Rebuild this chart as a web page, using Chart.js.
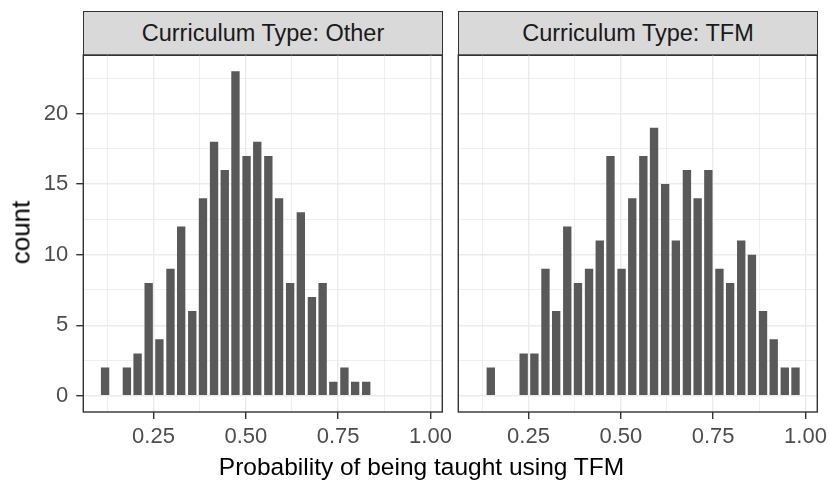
<!DOCTYPE html>
<html>
<head>
<meta charset="utf-8">
<script src="https://cdn.jsdelivr.net/npm/chart.js@4.4.1/dist/chart.umd.min.js"></script>
<style>
  body{margin:0;background:#fff;width:829px;height:486px;position:relative;overflow:hidden;
       font-family:"Liberation Sans",Arial,sans-serif}
  canvas{position:absolute}
  .strip{position:absolute;top:11px;height:45px;background:#d9d9d9;border:1.4px solid #333;
         box-sizing:border-box;color:#1a1a1a;font-size:23.5px;display:flex;align-items:center;justify-content:center}
  .xtitle{position:absolute;left:0;width:843px;top:453px;text-align:center;font-size:24.5px;color:#000}
  .ytitle{position:absolute;left:-29px;top:217px;width:100px;text-align:center;font-size:26px;color:#000;
          transform:rotate(-90deg)}
</style>
</head>
<body>
<div class="strip" style="left:83px;width:360px">Curriculum Type: Other</div>
<div class="strip" style="left:458px;width:360px">Curriculum Type: TFM</div>
<canvas id="cOther" width="452" height="436" style="left:0;top:50px"></canvas>
<canvas id="cTfm" width="379" height="436" style="left:450px;top:50px"></canvas>
<div class="ytitle">count</div>
<div class="xtitle">Probability of being taught using TFM</div>

<script>
// bin centres of the 30 histogram bins
const binMids = [0.119,0.148,0.178,0.207,0.237,0.266,0.296,0.325,0.355,0.384,
                 0.414,0.443,0.472,0.502,0.531,0.561,0.590,0.620,0.649,0.679,
                 0.708,0.737,0.767,0.796,0.826,0.855,0.885,0.914,0.944,0.973];
const otherCounts = [2,0,2,3,8,4,9,12,6,14,18,16,23,17,18,17,14,8,13,7,8,1,2,1,1,0,0,0,0,0];
const tfmCounts   = [0,2,0,0,3,3,9,6,12,8,9,11,17,9,14,17,19,15,11,16,14,16,9,8,11,10,6,4,2,2];

const xTicks = [0.125,0.25,0.375,0.5,0.625,0.75,0.875,1.0];
const xLabels = ['','0.25','','0.50','','0.75','','1.00'];
const yTicks = [0,2.5,5,7.5,10,12.5,15,17.5,20,22.5];
const yLabels = ['0','','5','','10','','15','','20',''];

Chart.defaults.font.family = '"Liberation Sans", Arial, sans-serif';
Chart.defaults.color = '#4d4d4d';

const isMajorX = v => xLabels[xTicks.indexOf(v)] !== '';
const isMajorY = v => yLabels[yTicks.indexOf(v)] !== '';

// panel border like ggplot theme_bw
const panelBorder = {
  id: 'panelBorder',
  afterDraw(chart){
    const a = chart.chartArea, ctx = chart.ctx;
    ctx.save();
    ctx.strokeStyle = '#333';
    ctx.lineWidth = 1.4;
    ctx.strokeRect(a.left, a.top, a.right - a.left, a.bottom - a.top);
    ctx.restore();
  }
};

function makePanel(id, counts, showY, yWidth, padRight){
  return new Chart(document.getElementById(id), {
    type: 'bar',
    data: {
      datasets: [{
        data: binMids.map((x, i) => ({x: x, y: counts[i]})),
        backgroundColor: '#595959',
        borderWidth: 0,
        barPercentage: 0.78,
        categoryPercentage: 1
      }]
    },
    options: {
      responsive: false,
      animation: false,
      devicePixelRatio: 1,
      layout: { padding: { top: 5, right: padRight, left: 0, bottom: 0 } },
      plugins: { legend: { display: false }, tooltip: { enabled: false } },
      scales: {
        x: {
          type: 'linear', min: 0.06, max: 1.032, offset: false,
          afterBuildTicks: s => { s.ticks = xTicks.map(v => ({value: v})); },
          afterFit: s => { s.height = 74; s.paddingLeft = 0; s.paddingRight = 0; },
          ticks: {
            autoSkip: false, maxRotation: 0, padding: 5,
            font: { size: 22 }, color: '#4d4d4d',
            callback: v => xLabels[xTicks.indexOf(v)]
          },
          grid: {
            offset: false,
            color: '#ebebeb',
            lineWidth: c => isMajorX(c.tick.value) ? 1.4 : 0.8,
            tickLength: 7,
            tickWidth: 1.4,
            tickColor: c => isMajorX(c.tick.value) ? '#333' : 'rgba(0,0,0,0)'
          },
          border: { display: false }
        },
        y: {
          min: -1.15, max: 24.15,
          afterBuildTicks: s => { s.ticks = yTicks.map(v => ({value: v})); },
          afterFit: s => { s.width = yWidth; s.paddingTop = 0; s.paddingBottom = 0; },
          ticks: {
            display: showY, autoSkip: false, padding: 8,
            font: { size: 22 }, color: '#4d4d4d',
            callback: v => yLabels[yTicks.indexOf(v)]
          },
          grid: {
            color: '#ebebeb',
            lineWidth: c => isMajorY(c.tick.value) ? 1.4 : 0.8,
            drawTicks: showY,
            tickLength: 7,
            tickWidth: 1.4,
            tickColor: c => isMajorY(c.tick.value) ? '#333' : 'rgba(0,0,0,0)'
          },
          border: { display: false }
        }
      }
    },
    plugins: [panelBorder]
  });
}

makePanel('cOther', otherCounts, true, 83.3, 9.7);
makePanel('cTfm', tfmCounts, false, 8.3, 11.7);
</script>
</body>
</html>
